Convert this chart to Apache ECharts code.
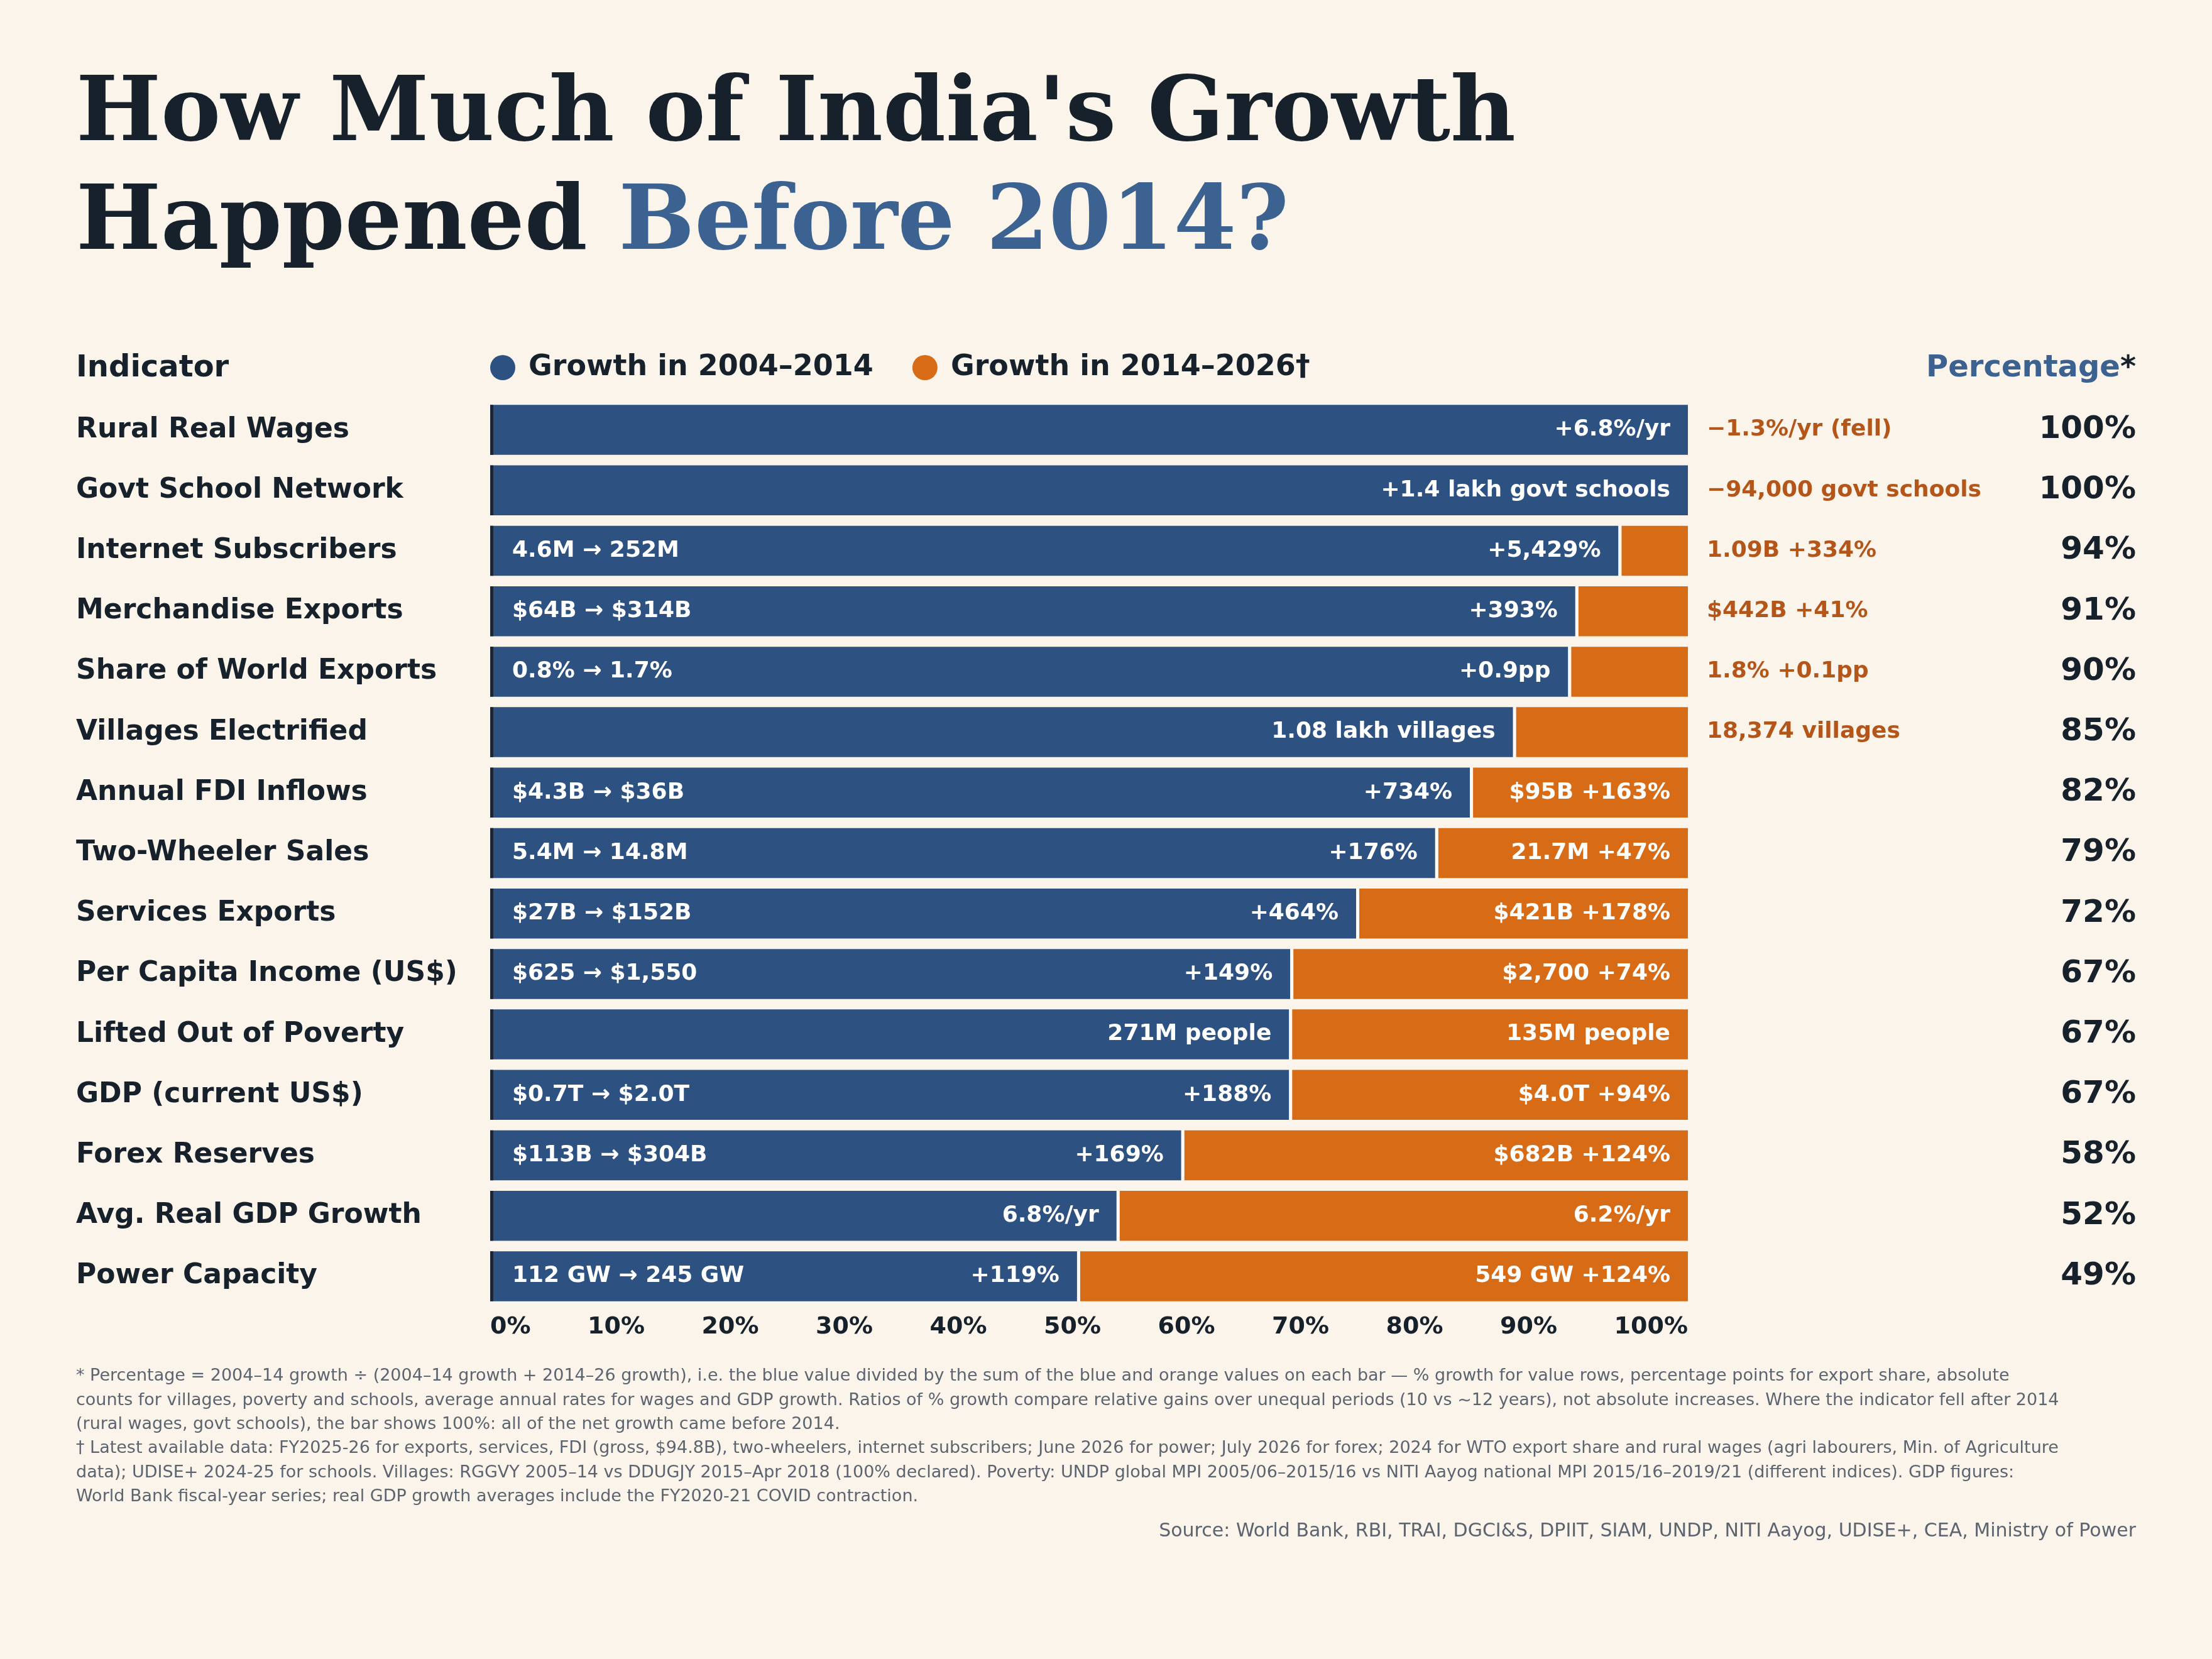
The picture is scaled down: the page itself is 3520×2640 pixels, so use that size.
<!DOCTYPE html>
<html style="height: 100%">
<head>
<meta charset="utf-8">
<script src="https://cdn.jsdelivr.net/npm/echarts@6/dist/echarts.min.js"></script>
</head>
<body style="height: 100%; margin: 0; background: #faf4ea">
<div id="container" style="width: 3520px; height: 2640px"></div>
<script>
// indicators, top to bottom
var categories = [
  'Rural Real Wages', 'Govt School Network', 'Internet Subscribers', 'Merchandise Exports',
  'Share of World Exports', 'Villages Electrified', 'Annual FDI Inflows', 'Two-Wheeler Sales',
  'Services Exports', 'Per Capita Income (US$)', 'Lifted Out of Poverty', 'GDP (current US$)',
  'Forex Reserves', 'Avg. Real GDP Growth', 'Power Capacity'
];
// share of growth that came in 2004-2014 (%)
var share2004 = [100, 100, 94.2, 90.6, 90.0, 85.4, 81.8, 78.9, 72.3, 66.8, 66.7, 66.7, 57.7, 52.3, 49.0];
var startText = [
  '', '', '4.6M → 252M', '$64B → $314B', '0.8% → 1.7%', '', '$4.3B → $36B', '5.4M → 14.8M',
  '$27B → $152B', '$625 → $1,550', '', '$0.7T → $2.0T', '$113B → $304B', '', '112 GW → 245 GW'
];
var blueText = [
  '+6.8%/yr', '+1.4 lakh govt schools', '+5,429%', '+393%', '+0.9pp', '1.08 lakh villages',
  '+734%', '+176%', '+464%', '+149%', '271M people', '+188%', '+169%', '6.8%/yr', '+119%'
];
var orangeText = [
  '−1.3%/yr (fell)', '−94,000 govt schools', '1.09B +334%', '$442B +41%', '1.8% +0.1pp',
  '18,374 villages', '$95B +163%', '21.7M +47%', '$421B +178%', '$2,700 +74%', '135M people',
  '$4.0T +94%', '$682B +124%', '6.2%/yr', '549 GW +124%'
];
var xTicks = [0, 10, 20, 30, 40, 50, 60, 70, 80, 90, 100];
var legendNames = ['Growth in 2004–2014', 'Growth in 2014–2026†'];
var footLines = [
  '* Percentage = 2004–14 growth ÷ (2004–14 growth + 2014–26 growth), i.e. the blue value divided by the sum of the blue and orange values on each bar — % growth for value rows, percentage points for export share, absolute',
  'counts for villages, poverty and schools, average annual rates for wages and GDP growth. Ratios of % growth compare relative gains over unequal periods (10 vs ~12 years), not absolute increases. Where the indicator fell after 2014',
  '(rural wages, govt schools), the bar shows 100%: all of the net growth came before 2014.',
  '† Latest available data: FY2025-26 for exports, services, FDI (gross, $94.8B), two-wheelers, internet subscribers; June 2026 for power; July 2026 for forex; 2024 for WTO export share and rural wages (agri labourers, Min. of Agriculture',
  'data); UDISE+ 2024-25 for schools. Villages: RGGVY 2005–14 vs DDUGJY 2015–Apr 2018 (100% declared). Poverty: UNDP global MPI 2005/06–2015/16 vs NITI Aayog national MPI 2015/16–2019/21 (different indices). GDP figures:',
  'World Bank fiscal-year series; real GDP growth averages include the FY2020-21 COVID contraction.'
];
var sourceText = 'Source: World Bank, RBI, TRAI, DGCI&S, DPIIT, SIAM, UNDP, NITI Aayog, UDISE+, CEA, Ministry of Power';

var BLUE = '#2d5281', ORANGE = '#d86c16', ORANGE_TXT = '#b4561a';
var INK = '#17212b', HEAD_BLUE = '#3b6291', GREY = '#5c6470', BG = '#faf4ea';
var SANS = '"DejaVu Sans", sans-serif';
var SERIF = '"DejaVu Serif", serif';
var BAR_FONT = 'bold 36px "DejaVu Sans"';
var TICK_FONT = 'bold 38px "DejaVu Sans"';
var PLOT_LEFT = 780, PLOT_WIDTH = 1906;

var measureCtx = document.createElement('canvas').getContext('2d');
function textWidth(str, font) {
  measureCtx.font = font;
  return measureCtx.measureText(str).width;
}

// tick labels are spread edge to edge with equal gaps between them
var tickRich = {};
(function () {
  var widths = xTicks.map(function (t) { return textWidth(t + '%', TICK_FONT); });
  var total = widths.reduce(function (a, b) { return a + b; }, 0);
  var gap = (PLOT_WIDTH - total) / (xTicks.length - 1);
  var left = PLOT_LEFT;
  for (var k = 0; k < xTicks.length; k++) {
    var center = left + widths[k] / 2;
    var tickX = PLOT_LEFT + PLOT_WIDTH * xTicks[k] / 100;
    var s = center - tickX;
    tickRich['p' + k] = {
      fontSize: 38, fontWeight: 'bold', fontFamily: SANS, color: INK,
      padding: s >= 0 ? [0, 0, 0, 2 * s] : [0, -2 * s, 0, 0]
    };
    left += widths[k] + gap;
  }
})();

var blueData = [], orangeData = [];
for (var i = 0; i < categories.length; i++) {
  blueData.push([i, 0, share2004[i]]);
  orangeData.push([i, share2004[i], 100]);
}

function barText(x, y, str, align, color) {
  return {
    type: 'text',
    style: {
      x: x, y: y, text: str, fill: color, font: BAR_FONT,
      align: align, verticalAlign: 'middle'
    }
  };
}

function renderBlue(params, api) {
  var i = api.value(0);
  var p0 = api.coord([api.value(1), i]);
  var p1 = api.coord([api.value(2), i]);
  var h = api.size([0, 1])[1] * 0.826;
  var top = p0[1] - h / 2;
  var kids = [
    { type: 'rect', shape: { x: p0[0], y: top, width: p1[0] - p0[0], height: h }, style: { fill: BLUE } },
    { type: 'rect', shape: { x: p0[0], y: top, width: 5, height: h }, style: { fill: '#1b2533' } }
  ];
  if (startText[i]) kids.push(barText(p0[0] + 35, p0[1], startText[i], 'left', '#ffffff'));
  kids.push(barText(p1[0] - 28, p0[1], blueText[i], 'right', '#ffffff'));
  return { type: 'group', children: kids };
}

function renderOrange(params, api) {
  var i = api.value(0);
  var p0 = api.coord([api.value(1), i]);
  var p1 = api.coord([api.value(2), i]);
  var h = api.size([0, 1])[1] * 0.826;
  var top = p0[1] - h / 2;
  var w = p1[0] - p0[0];
  var kids = [];
  if (w > 0) {
    kids.push({ type: 'rect', shape: { x: p0[0], y: top, width: 5, height: h }, style: { fill: '#fdfaf5' } });
    kids.push({ type: 'rect', shape: { x: p0[0] + 5, y: top, width: w - 5, height: h }, style: { fill: ORANGE } });
  }
  if (textWidth(orangeText[i], BAR_FONT) + 56 <= w) {
    kids.push(barText(p1[0] - 28, p0[1], orangeText[i], 'right', '#ffffff'));
  } else {
    kids.push(barText(p1[0] + 30, p0[1], orangeText[i], 'left', ORANGE_TXT));
  }
  return { type: 'group', children: kids };
}

var myChart = echarts.init(document.getElementById('container'));

var option = {
  backgroundColor: BG,
  animation: false,
  textStyle: { fontFamily: SANS },
  grid: { left: PLOT_LEFT, width: PLOT_WIDTH, top: 636, height: 1443, containLabel: false },
  legend: {
    left: 780, top: 562, padding: 0,
    itemWidth: 40, itemHeight: 40, itemGap: 62,
    icon: 'circle', selectedMode: false,
    textStyle: { fontSize: 46, fontWeight: 'bold', color: INK, fontFamily: SANS, padding: [0, 0, 0, 16] },
    data: [
      { name: legendNames[0], itemStyle: { color: BLUE } },
      { name: legendNames[1], itemStyle: { color: ORANGE } }
    ]
  },
  xAxis: {
    type: 'value', min: 0, max: 100, interval: 10,
    axisLine: { show: false }, axisTick: { show: false }, splitLine: { show: false },
    axisLabel: {
      margin: 14, fontSize: 38, fontWeight: 'bold', color: INK,
      fontFamily: SANS, alignMinLabel: 'left', alignMaxLabel: 'right',
      formatter: function (v) {
        var k = xTicks.indexOf(v);
        if (k <= 0 || k === xTicks.length - 1) return v + '%';
        return '{p' + k + '|' + v + '%}';
      },
      rich: tickRich
    }
  },
  yAxis: [
    {
      type: 'category', data: categories, inverse: true,
      axisLine: { show: false }, axisTick: { show: false },
      axisLabel: {
        interval: 0, align: 'left', margin: 659, fontSize: 44, fontWeight: 'bold',
        color: INK, fontFamily: SANS
      }
    },
    {
      type: 'category', data: categories, inverse: true, position: 'right',
      axisLine: { show: false }, axisTick: { show: false },
      axisLabel: {
        interval: 0, align: 'right', margin: 713, fontSize: 50, fontWeight: 'bold',
        color: INK, fontFamily: SANS,
        formatter: function (v, idx) { return Math.round(share2004[idx]) + '%'; }
      }
    }
  ],
  series: [
    {
      name: legendNames[0], type: 'custom', renderItem: renderBlue,
      itemStyle: { color: BLUE }, encode: { x: [1, 2], y: 0 }, data: blueData, silent: true
    },
    {
      name: legendNames[1], type: 'custom', renderItem: renderOrange,
      itemStyle: { color: ORANGE }, encode: { x: [1, 2], y: 0 }, data: orangeData, silent: true
    }
  ],
  graphic: [
    {
      type: 'text', x: 121, y: 186,
      style: {
        text: "How Much of India's Growth", fill: INK,
        fontSize: 143, fontWeight: 'bold', fontFamily: SERIF,
        align: 'left', verticalAlign: 'middle'
      }
    },
    {
      type: 'text', x: 121, y: 359,
      style: {
        text: 'Happened {b|Before 2014?}', fill: INK,
        fontSize: 143, fontWeight: 'bold', fontFamily: SERIF,
        align: 'left', verticalAlign: 'middle',
        rich: {
          b: { fill: HEAD_BLUE, fontSize: 143, fontWeight: 'bold', fontFamily: SERIF }
        }
      }
    },
    {
      type: 'text', x: 121, y: 587,
      style: {
        text: 'Indicator', fill: INK, fontSize: 48, fontWeight: 'bold', fontFamily: SANS,
        align: 'left', verticalAlign: 'middle'
      }
    },
    {
      type: 'text', x: 3399, y: 587,
      style: {
        text: 'Percentage{s|*}', fill: HEAD_BLUE, fontSize: 48, fontWeight: 'bold', fontFamily: SANS,
        align: 'right', verticalAlign: 'middle',
        rich: { s: { fill: INK, fontSize: 48, fontWeight: 'bold', fontFamily: SANS } }
      }
    },
    {
      type: 'text', x: 121, y: 2171,
      style: {
        text: footLines.join('\n'), fill: GREY, fontSize: 27, lineHeight: 38.4, fontFamily: SANS,
        align: 'left', verticalAlign: 'top'
      }
    },
    {
      type: 'text', x: 3399, y: 2437,
      style: {
        text: sourceText, fill: GREY, fontSize: 30, fontFamily: SANS,
        align: 'right', verticalAlign: 'middle'
      }
    }
  ]
};

myChart.setOption(option);
</script>
</body>
</html>
